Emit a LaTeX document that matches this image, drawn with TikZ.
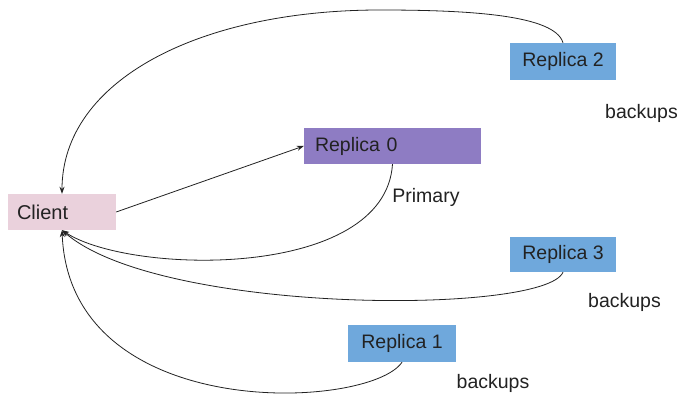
\documentclass[tikz,border=0pt]{standalone}
\usepackage{fontspec}
\setmainfont{Liberation Sans}
\usetikzlibrary{arrows.meta}
\definecolor{pinkc}{HTML}{EAD1DC}
\definecolor{purplec}{HTML}{8E7CC3}
\definecolor{bluec}{HTML}{6FA8DC}
\definecolor{txt}{HTML}{222222}
\begin{document}
\begin{tikzpicture}[x=1pt,y=-1pt,
  box/.style={rectangle, inner sep=0pt, text=txt, font=\fontsize{19.5}{21}\selectfont},
  lbl/.style={inner sep=0pt, text=txt, font=\fontsize{19.5}{21}\selectfont},
  conn/.style={draw=txt, line width=0.8pt, -{Stealth[length=7pt,width=5pt]}}]
\useasboundingbox[fill=white] (0,0) rectangle (681,395);
\node[box, fill=pinkc, minimum width=108pt, minimum height=36pt, text width=90pt, align=left, font=\fontsize{20}{22}\selectfont] (client) at (62,212) {Client};
\node[box, fill=purplec, minimum width=177pt, minimum height=36pt, text width=155pt, align=left] (r0) at (392.5,146) {Replica 0};
\node[box, fill=bluec, minimum width=106pt, minimum height=37pt] (r2) at (563,61.5) {Replica 2};
\node[box, fill=bluec, minimum width=106pt, minimum height=35pt] (r3) at (563,254.5) {Replica 3};
\node[box, fill=bluec, minimum width=108pt, minimum height=37pt] (r1) at (402,343.5) {Replica 1};
\node[lbl] (b2) at (641.5,113) {backups};
\node[lbl] (pr) at (426,197) {Primary};
\node[lbl] (b3) at (624.5,302) {backups};
\node[lbl] (b1) at (493,383) {backups};
\draw[conn] (client.east) -- (r0.west);
\draw[conn] (r2.north) .. controls (555,15) and (470,10) .. (380,10) .. controls (200,10) and (62,80) .. (client.north);
\draw[conn] (r0.south) .. controls (385,280) and (130,275) .. (client.south);
\draw[conn] (r3.south) .. controls (545,315) and (160,315) .. (client.south);
\draw[conn] (r1.south) .. controls (370,410) and (70,425) .. (client.south);
\end{tikzpicture}
\end{document}
